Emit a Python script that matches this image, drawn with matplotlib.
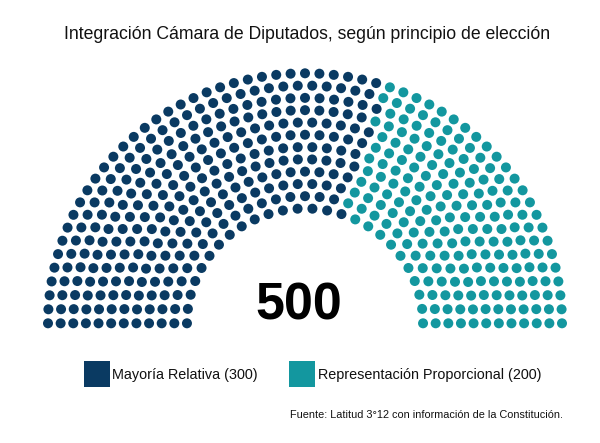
import math
import matplotlib
matplotlib.use("Agg")
import matplotlib.pyplot as plt
from matplotlib.patches import Rectangle

# ---------------- data ----------------
title = "Integración Cámara de Diputados, según principio de elección"
categories = ["Mayoría Relativa", "Representación Proporcional"]
seats = [300, 200]
colors = ["#0a3a62", "#13979f"]
source = "Fuente: Latitud 3°12 con información de la Constitución."

plt.rcParams['font.family'] = ['Liberation Sans', 'DejaVu Sans']


def parliament_slots(total, diameter, inner_frac, start=-math.pi, end=0.0):
    """Highcharts-like item (parliament) layout."""
    inner = diameter * inner_frac
    full = end - start
    row_fraction = (diameter - inner) / diameter
    item_count = math.inf
    rows = None
    test_rows = None
    item_size = 0
    final_count = None
    while item_count > total:
        final_count = item_count
        item_count = 0
        rows = test_rows
        test_rows = []
        item_size += 1
        row_count = math.floor(diameter / item_size / 2 * row_fraction)
        for r in range(row_count, 0, -1):
            rr = (inner + r / row_count * (diameter - inner - item_size)) / 2
            rl = full * rr
            cc = math.ceil(rl / item_size)
            test_rows.append({'r': rr, 'len': rl, 'cols': cc})
            item_count += cc + 1
    overshoot = final_count - total
    while overshoot > 0:
        ranked = sorted(rows, key=lambda row: row['cols'] / row['len'], reverse=True)
        for row in ranked[:min(overshoot, math.ceil(len(rows) / 2))]:
            if overshoot > 0:
                row['cols'] -= 1
                overshoot -= 1
    slots = []
    for row in rows:
        inc = full / row['cols'] if row['cols'] else 0
        for c in range(row['cols'] + 1):
            a = start + c * inc
            slots.append((a, math.cos(a) * row['r'], math.sin(a) * row['r']))
    slots.sort(key=lambda t: t[0])
    return slots, rows


total = sum(seats)
slots, rows = parliament_slots(total, 524.0, 0.4)
outer_r = max(r['r'] for r in rows)

# pixel layout
W, H = 600, 443
cx, cy = 305.0, 323.3
kx, ky = 257.0 / outer_r, 250.0 / outer_r

fig = plt.figure(figsize=(W / 100, H / 100), dpi=100)
ax = fig.add_axes([0, 0, 1, 1])
ax.set_xlim(0, W)
ax.set_ylim(H, 0)
ax.axis('off')

idx = 0
for n, col in zip(seats, colors):
    pts = slots[idx:idx + n]
    idx += n
    xs = [cx + p[1] * kx for p in pts]
    ys = [cy + p[2] * ky for p in pts]
    ax.scatter(xs, ys, s=(10 * 0.72) ** 2, color=col, edgecolors='none', zorder=3)

ax.text(307.5, 38.5, title, ha='center', va='baseline', fontsize=17.6 * 0.72, color='#111111')
ax.text(298.5, 320, f"{total}", ha='center', va='baseline', fontsize=52 * 0.72,
        fontweight='bold', color='black')

# legend
leg_x = [84, 289]
for x0, cat, n, col in zip(leg_x, categories, seats, colors):
    ax.add_patch(Rectangle((x0, 361), 26, 26, facecolor=col, edgecolor='none'))
    ax.text(x0 + 28.5, 378.5, f"{cat} ({n})", ha='left', va='baseline',
            fontsize=14.35 * 0.72, color='#111111')

ax.text(563.5, 418.5, source, ha='right', va='baseline', fontsize=10.85 * 0.72, color='#111111')

fig.savefig("out.png", dpi=100, facecolor='white')
